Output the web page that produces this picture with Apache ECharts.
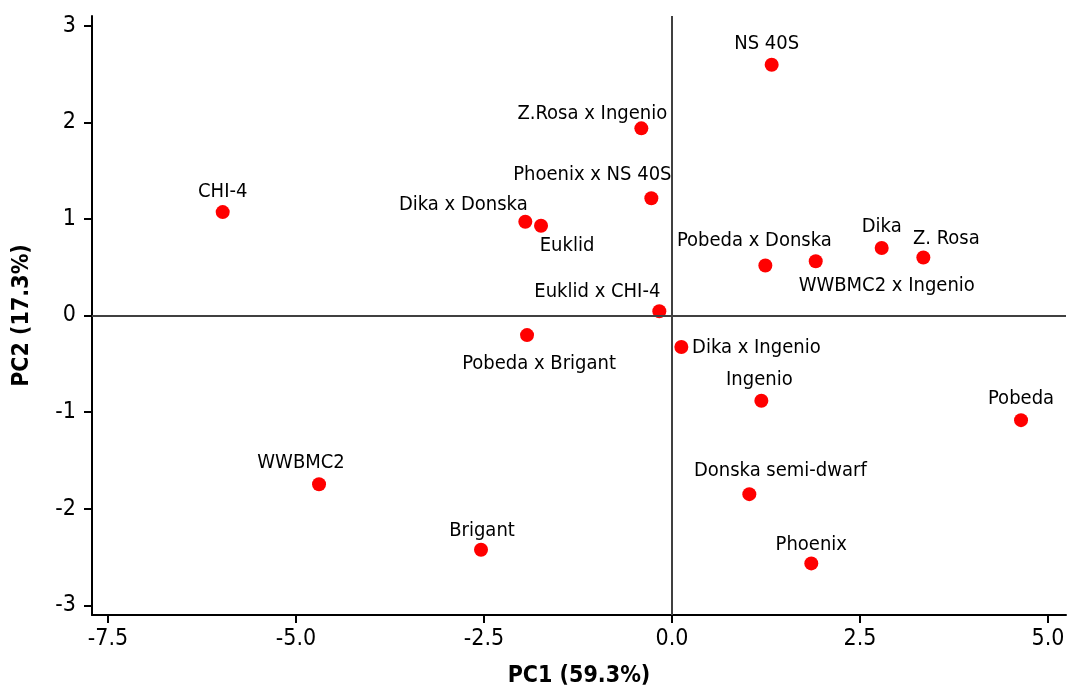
<!DOCTYPE html>
<html>
<head>
<meta charset="utf-8">
<script src="https://cdn.jsdelivr.net/npm/echarts@6/dist/echarts.min.js"></script>
<style>
html,body{margin:0;padding:0;background:#fff;}
#chart{width:1068px;height:693px;}
</style>
</head>
<body>
<div id="chart"></div>
<script>
// ---- data ----
var genotypes = ["NS 40S","Z.Rosa x Ingenio","Phoenix x NS 40S","CHI-4","Dika x Donska","Euklid",
  "Pobeda x Donska","WWBMC2 x Ingenio","Dika","Z. Rosa","Euklid x CHI-4","Pobeda x Brigant",
  "Dika x Ingenio","Ingenio","Pobeda","WWBMC2","Donska semi-dwarf","Brigant","Phoenix"];
var pc1 = [1.325,-0.408,-0.275,-5.975,-1.951,-1.742,1.241,1.911,2.788,3.342,-0.169,-1.928,0.124,1.188,4.641,-4.694,1.028,-2.540,1.852];
var pc2 = [2.596,1.937,1.214,1.070,0.970,0.929,0.517,0.562,0.699,0.600,0.044,-0.203,-0.326,-0.882,-1.083,-1.746,-1.849,-2.425,-2.566];
var xTicks = [-7.5,-5.0,-2.5,0.0,2.5,5.0];
var yTicks = [-3,-2,-1,0,1,2,3];
var xTitle = "PC1 (59.3%)";
var yTitle = "PC2 (17.3%)";

// ---- layout (label centre offsets in px, relative to point centre) ----
var labelOffsets = [[-5,-21],[-49,-15],[-59,-23],[0,-20],[-62,-17],[26,20],
  [-11,-25],[71,25],[0,-21],[23,-19],[-62,-19],[12,29],
  [75,1],[-2,-21],[0,-21],[-18,-21],[31,-23],[1,-19],[0,-19]];

var FONT = "'DejaVu Sans Condensed', 'DejaVu Sans', sans-serif";
var SYM = 14;

var pts = genotypes.map(function(n,i){
  return {
    name:n, value:[pc1[i],pc2[i]],
    label:{position:[SYM/2+labelOffsets[i][0], SYM/2+labelOffsets[i][1]]}
  };
});

var chart = echarts.init(document.getElementById('chart'));
chart.setOption({
  animation:false,
  backgroundColor:'#ffffff',
  grid:{left:92,right:2,top:16,bottom:74,containLabel:false},
  xAxis:{
    type:'value', min:-7.713, max:5.239,
    name:xTitle, nameLocation:'middle', nameGap:50,
    nameTextStyle:{fontFamily:FONT,fontSize:23,fontWeight:'bold',color:'#000'},
    splitLine:{show:false},
    axisLine:{onZero:false,lineStyle:{color:'#000',width:2}},
    axisTick:{show:true,length:8,lineStyle:{color:'#000',width:2},customValues:xTicks},
    axisLabel:{margin:13,fontFamily:FONT,fontSize:23,color:'#000',customValues:xTicks,
      formatter:function(v){return v.toFixed(1);}}
  },
  yAxis:{
    type:'value', min:-3.1, max:3.1,
    name:yTitle, nameLocation:'middle', nameGap:58,
    nameTextStyle:{fontFamily:FONT,fontSize:23,fontWeight:'bold',color:'#000'},
    splitLine:{show:false},
    axisLine:{onZero:false,lineStyle:{color:'#000',width:2}},
    axisTick:{show:true,length:8,lineStyle:{color:'#000',width:2},customValues:yTicks},
    axisLabel:{margin:16,fontFamily:FONT,fontSize:23,color:'#000',customValues:yTicks,
      formatter:function(v){return String(v);}}
  },
  series:[{
    type:'scatter',
    symbol:'circle', symbolSize:SYM,
    itemStyle:{color:'#ff0000',opacity:1},
    emphasis:{disabled:true},
    data:pts,
    label:{show:true,align:'center',verticalAlign:'middle',
      formatter:'{b}',fontFamily:FONT,fontSize:20,color:'#000',opacity:1},
    labelLayout:{hideOverlap:false},
    markLine:{
      silent:true, symbol:['none','none'], label:{show:false},
      lineStyle:{color:'#404040',width:2,type:'solid',opacity:1},
      data:[{xAxis:0},{yAxis:0}]
    },
    z:3
  }]
});
</script>
</body>
</html>
